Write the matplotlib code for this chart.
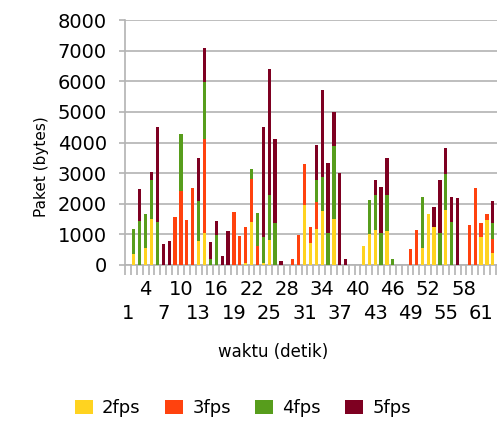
import numpy as np
import matplotlib
matplotlib.use("Agg")
import matplotlib.pyplot as plt
from matplotlib.patches import Patch

plt.rcParams['font.family'] = ['DejaVu Sans']

seconds = list(range(1, 64))
fps2 = [0, 350, 0, 570, 1500, 0, 0, 0, 0, 0,
        0, 0, 770, 1040, 0, 0, 0, 0, 0, 0,
        70, 1400, 0, 70, 820, 0, 0, 0, 0, 0,
        1960, 730, 1170, 1770, 0, 1500, 0, 0, 0, 0,
        630, 1020, 1130, 0, 1120, 0, 0, 0, 0, 0,
        545, 1656, 1250, 0, 1800, 0, 0, 0, 0, 0,
        930, 1470, 380]
fps3 = [0, 0, 0, 0, 0, 0, 0, 0, 1580, 2420,
        1480, 2500, 0, 3070, 0, 0, 0, 0, 1720, 960,
        1180, 1400, 620, 0, 0, 0, 0, 0, 190, 970,
        1340, 500, 900, 0, 0, 0, 0, 0, 0, 0,
        0, 0, 0, 0, 0, 0, 0, 0, 510, 1140,
        0, 0, 0, 0, 0, 0, 0, 0, 1290, 2530,
        430, 190, 460]
fps4 = [0, 830, 1440, 1080, 1280, 1400, 0, 0, 0, 1860,
        0, 0, 1320, 1880, 190, 980, 0, 0, 0, 0,
        0, 330, 1070, 860, 1470, 1360, 0, 0, 0, 0,
        0, 0, 690, 1090, 1040, 2370, 0, 0, 0, 0,
        0, 1100, 1160, 1050, 1170, 185, 0, 0, 0, 0,
        1660, 0, 0, 1060, 1170, 1420, 0, 0, 0, 0,
        0, 0, 520]
fps5 = [0, 0, 1030, 0, 270, 3100, 690, 770, 0, 0,
        0, 0, 1420, 1090, 570, 470, 300, 1110, 0, 0,
        0, 0, 0, 3590, 4100, 2740, 140, 0, 0, 0,
        0, 0, 1150, 2860, 2300, 1130, 3020, 190, 0, 0,
        0, 0, 470, 1500, 1200, 0, 0, 0, 0, 0,
        0, 0, 630, 1700, 840, 800, 2180, 0, 0, 0,
        0, 0, 730]
series_names = ['2fps', '3fps', '4fps', '5fps']
colors = ['#ffd320', '#ff420e', '#579d1c', '#7e0021']
yticks = [0, 1000, 2000, 3000, 4000, 5000, 6000, 7000, 8000]
upper_labels = list(range(4, 62, 6))
lower_labels = list(range(1, 62, 6))

fig = plt.figure(figsize=(4.97, 4.32), dpi=100)
ax = fig.add_axes([125/497, 1 - 265/432, 1 - 125/497, (265 - 20)/432])

x = np.array(seconds)
bottom = np.zeros(len(x))
for vals, c in zip([fps2, fps3, fps4, fps5], colors):
    v = np.array(vals, dtype=float)
    ax.bar(x, v, bottom=bottom, width=0.55, color=c, zorder=3)
    bottom += v

ax.set_xlim(0.5, 63.7)
ax.set_ylim(0, 8000)
ax.set_yticks(yticks)
ax.set_yticklabels([str(t) for t in yticks], fontsize=14)
ax.grid(axis='y', color='#b3b3b3', linewidth=1.2, zorder=0)
ax.tick_params(axis='y', length=4, color='#b3b3b3', width=1.2, pad=9)

for s in ['top', 'right']:
    ax.spines[s].set_visible(False)
ax.spines['left'].set_color('#b3b3b3')
ax.spines['left'].set_linewidth(1.2)
ax.spines['bottom'].set_color('#b3b3b3')
ax.spines['bottom'].set_linewidth(1.2)

ax.set_xticks(np.arange(0.5, 64, 1.0))
ax.set_xticklabels([])
ax.tick_params(axis='x', length=7, color='#b3b3b3', width=1.2)

tr = ax.get_xaxis_transform()
for k in upper_labels:
    ax.text(k, -0.102, str(k), transform=tr, ha='center', va='center', fontsize=14)
for k in lower_labels:
    ax.text(k, -0.196, str(k), transform=tr, ha='center', va='center', fontsize=14)

ax.set_ylabel('Paket (bytes)', fontsize=11)
ax.yaxis.set_label_coords(-0.205, 0.40)

fig.text(273/497, 1 - 352/432, 'waktu (detik)', ha='center', va='center', fontsize=12)

handles = [Patch(facecolor=c, edgecolor='none') for c in colors]
fig.legend(handles, series_names, loc='center', bbox_to_anchor=(243/497, 1 - 408/432),
           ncol=4, frameon=False, fontsize=13, handlelength=1.0, handleheight=0.8,
           handletextpad=0.5, columnspacing=1.35)

fig.savefig('out.png', dpi=100)
